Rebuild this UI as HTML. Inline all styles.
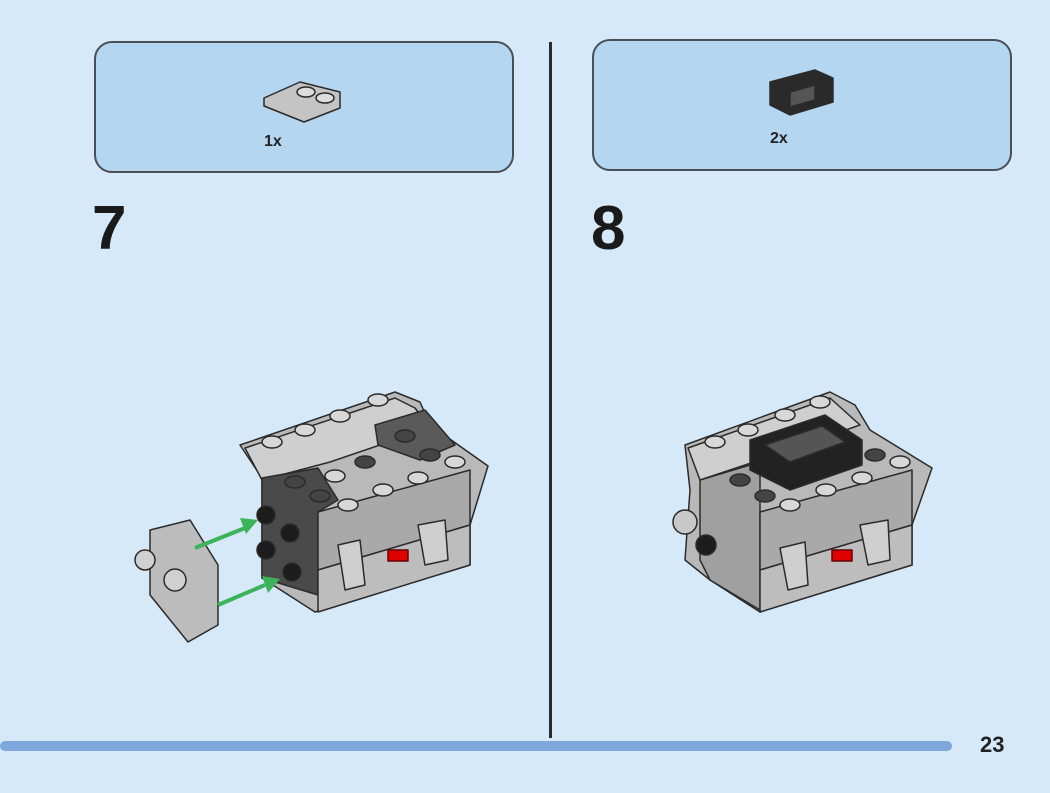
<!DOCTYPE html>
<html><head><style>
body{margin:0;width:1050px;height:793px;background:#d5e9f8;font-family:"Liberation Sans",sans-serif;overflow:hidden;position:relative}
.box{position:absolute;background:#b5d6f1;border:2px solid #4a4f55;border-radius:18px}
.num{position:absolute;font-weight:bold;font-size:62px;color:#1a1a1a}
.qty{position:absolute;font-size:16px;font-weight:bold;color:#222}
</style></head><body>
<div class="box" style="left:94px;top:41px;width:416px;height:128px"></div>
<div class="box" style="left:592px;top:39px;width:416px;height:128px"></div>
<div class="qty" style="left:264px;top:133px">1x</div>
<div class="qty" style="left:770px;top:130px">2x</div>
<div class="num" style="left:92px;top:193px">7</div>
<div class="num" style="left:591px;top:193px">8</div>
<div style="position:absolute;left:549px;top:42px;width:3px;height:696px;background:#2a2a2a"></div>
<div style="position:absolute;left:0;top:741px;width:952px;height:10px;background:#7fa7db;border-radius:5px"></div>
<div style="position:absolute;left:980px;top:732px;font-size:22px;font-weight:bold;color:#222">23</div>
<svg width="1050" height="793" style="position:absolute;left:0;top:0" stroke="#2b2b2b" stroke-width="1.5" stroke-linejoin="round">
<!-- small part 1 -->
<polygon points="264,98 300,82 340,92 340,108 304,122 264,106" fill="#c4c4c4"/>
<ellipse cx="306" cy="92" rx="9" ry="5" fill="#ddd"/><ellipse cx="325" cy="98" rx="9" ry="5" fill="#ddd"/>
<!-- small part 2 -->
<polygon points="770,82 815,70 833,78 833,102 790,115 770,105" fill="#2a2a2a"/>
<polygon points="790,92 815,85 815,100 790,107" fill="#555"/>
<!-- left model -->
<polygon points="240,445 395,392 420,402 430,425 488,466 470,525 470,565 315,612 262,578 262,478" fill="#b9b9b9"/>
<polygon points="245,448 395,398 415,408 430,428 330,462 262,480" fill="#cfcfcf"/>
<polygon points="262,478 318,468 338,500 318,512 318,595 262,578" fill="#4a4a4a"/>
<polygon points="318,512 470,470 470,525 318,570" fill="#a9a9a9"/>
<polygon points="318,570 470,525 470,565 318,612" fill="#bdbdbd"/>
<polygon points="375,425 425,410 455,445 420,460 378,445" fill="#5a5a5a"/>
<polygon points="338,545 360,540 365,585 345,590" fill="#cfcfcf"/>
<polygon points="418,525 445,520 448,560 425,565" fill="#cfcfcf"/>
<rect x="388" y="550" width="20" height="11" fill="#e00000" stroke="#600"/>
<g fill="#1c1c1c"><circle cx="266" cy="515" r="9"/><circle cx="290" cy="533" r="9"/><circle cx="266" cy="550" r="9"/><circle cx="292" cy="572" r="9"/></g>
<g fill="#d8d8d8"><ellipse cx="272" cy="442" rx="10" ry="6"/><ellipse cx="305" cy="430" rx="10" ry="6"/><ellipse cx="340" cy="416" rx="10" ry="6"/><ellipse cx="378" cy="400" rx="10" ry="6"/><ellipse cx="455" cy="462" rx="10" ry="6"/><ellipse cx="418" cy="478" rx="10" ry="6"/><ellipse cx="383" cy="490" rx="10" ry="6"/><ellipse cx="348" cy="505" rx="10" ry="6"/><ellipse cx="335" cy="476" rx="10" ry="6"/></g>
<g fill="#444"><ellipse cx="405" cy="436" rx="10" ry="6"/><ellipse cx="365" cy="462" rx="10" ry="6"/><ellipse cx="295" cy="482" rx="10" ry="6"/><ellipse cx="320" cy="496" rx="10" ry="6"/><ellipse cx="430" cy="455" rx="10" ry="6"/></g>
<polygon points="150,530 190,520 218,565 218,625 188,642 150,595" fill="#bcbcbc"/>
<circle cx="145" cy="560" r="10" fill="#d0d0d0"/><circle cx="175" cy="580" r="11" fill="#d0d0d0"/>
<g stroke="#3cb25a" stroke-width="4" fill="#3cb25a"><line x1="195" y1="548" x2="245" y2="528"/><line x1="218" y1="605" x2="265" y2="585"/></g>
<polygon points="258,520 240,518 246,534" fill="#3cb25a" stroke="none"/><polygon points="280,579 262,576 268,593" fill="#3cb25a" stroke="none"/>
<!-- right model -->
<polygon points="685,445 830,392 855,405 870,430 932,468 912,525 912,565 760,612 710,580 685,560 690,490" fill="#b9b9b9"/>
<polygon points="688,448 830,398 860,425 760,460 700,480" fill="#cfcfcf"/>
<polygon points="700,480 760,462 760,610 710,580 700,560" fill="#a0a0a0"/>
<polygon points="760,512 912,470 912,525 760,570" fill="#a9a9a9"/>
<polygon points="760,570 912,525 912,565 760,612" fill="#bdbdbd"/>
<polygon points="750,440 825,415 862,440 862,465 790,490 750,470" fill="#222"/>
<polygon points="765,445 822,426 845,442 790,462" fill="#555"/>
<polygon points="780,548 805,542 808,585 788,590" fill="#cfcfcf"/>
<polygon points="860,525 888,520 890,560 868,565" fill="#cfcfcf"/>
<rect x="832" y="550" width="20" height="11" fill="#e00000" stroke="#600"/>
<circle cx="685" cy="522" r="12" fill="#c8c8c8"/><circle cx="706" cy="545" r="10" fill="#1c1c1c"/>
<g fill="#d8d8d8"><ellipse cx="715" cy="442" rx="10" ry="6"/><ellipse cx="748" cy="430" rx="10" ry="6"/><ellipse cx="785" cy="415" rx="10" ry="6"/><ellipse cx="820" cy="402" rx="10" ry="6"/><ellipse cx="900" cy="462" rx="10" ry="6"/><ellipse cx="862" cy="478" rx="10" ry="6"/><ellipse cx="826" cy="490" rx="10" ry="6"/><ellipse cx="790" cy="505" rx="10" ry="6"/></g>
<g fill="#444"><ellipse cx="740" cy="480" rx="10" ry="6"/><ellipse cx="765" cy="496" rx="10" ry="6"/><ellipse cx="875" cy="455" rx="10" ry="6"/></g>
</svg>
</body></html>
